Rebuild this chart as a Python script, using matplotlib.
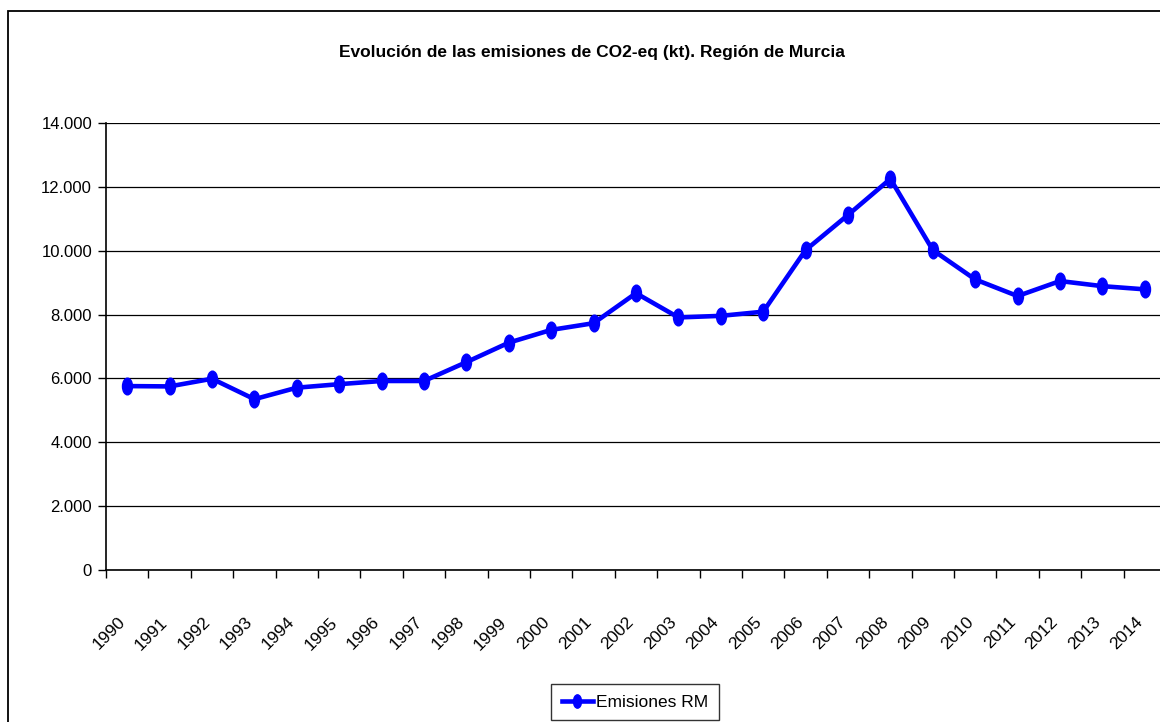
import matplotlib
matplotlib.use("Agg")
import matplotlib.pyplot as plt
import numpy as np
from matplotlib.path import Path
from matplotlib.patches import Rectangle
from matplotlib.ticker import FuncFormatter, FixedLocator
from matplotlib.transforms import ScaledTranslation

plt.rcParams['font.family'] = ['Liberation Sans', 'DejaVu Sans']

years = [str(y) for y in range(1990, 2015)]
emisiones = [5760, 5750, 5990, 5350, 5710, 5820, 5920, 5920, 6510, 7120,
             7520, 7730, 8670, 7910, 7960, 8090, 10020, 11120, 12250, 10020,
             9100, 8580, 9050, 8890, 8790]
y_ticks = [0, 2000, 4000, 6000, 8000, 10000, 12000, 14000]
title = "Evolución de las emisiones de CO2-eq (kt). Región de Murcia"

fig = plt.figure(figsize=(11.6, 7.22), dpi=100)
ax = fig.add_axes([106/1160, 1-570/722, 1060/1160, (570-123)/722])

# tall oval marker like the excel one
circ = Path.unit_circle()
oval = Path(circ.vertices * np.array([0.6, 1.0]), circ.codes)

x = np.arange(len(years))
ax.plot(x, emisiones, color='#0000ff', linewidth=3.3, marker=oval, markersize=12,
        markerfacecolor='#0000ff', markeredgecolor='#0000ff', label='Emisiones RM',
        solid_joinstyle='round', clip_on=False)

ax.set_xlim(-0.5, len(years) - 0.5)
ax.set_ylim(0, 14000)
ax.set_yticks(y_ticks)
ax.yaxis.set_major_formatter(FuncFormatter(lambda v, p: f"{int(v):,}".replace(",", ".")))
ax.yaxis.grid(True, color='black', linewidth=0.9)
ax.set_axisbelow(True)

# tick marks at category boundaries, labels at centers
ax.xaxis.set_major_locator(FixedLocator(np.arange(-0.5, len(years), 1.0)))
ax.xaxis.set_major_formatter(FuncFormatter(lambda v, p: ""))
ax.xaxis.set_minor_locator(FixedLocator(x))
ax.set_xticklabels(years, minor=True)
ax.tick_params(axis='x', which='major', length=6, width=1, direction='out')
ax.tick_params(axis='x', which='minor', length=0, pad=32, labelsize=12.5)
shift = ScaledTranslation(-7/72, 0, fig.dpi_scale_trans)
for lbl in ax.get_xticklabels(minor=True):
    lbl.set_rotation(45)
    lbl.set_ha('right')
    lbl.set_va('top')
    lbl.set_rotation_mode('anchor')
    lbl.set_transform(lbl.get_transform() + shift)
ax.tick_params(axis='y', length=6, width=1, labelsize=12, pad=4)

for s in ['top', 'right']:
    ax.spines[s].set_visible(False)
ax.spines['left'].set_linewidth(1.2)
ax.spines['bottom'].set_linewidth(1.2)

fig.text(592/1160, 1-53/722, title, ha='center', va='center', fontsize=12.5, fontweight='bold')

leg = fig.legend(loc='center', bbox_to_anchor=(635/1160, 1-702/722), frameon=True,
                 fancybox=False, edgecolor='black', fontsize=12.5, handlelength=1.8,
                 handletextpad=0.2, borderpad=0.6, borderaxespad=0, markerscale=0.8)
leg.get_frame().set_linewidth(1.0)

fig.patches.append(Rectangle((8/1160, -0.1), 1.2, 1-11/722+0.1, transform=fig.transFigure,
                             fill=False, edgecolor='black', linewidth=1.3))

fig.savefig("out.png", dpi=100)
